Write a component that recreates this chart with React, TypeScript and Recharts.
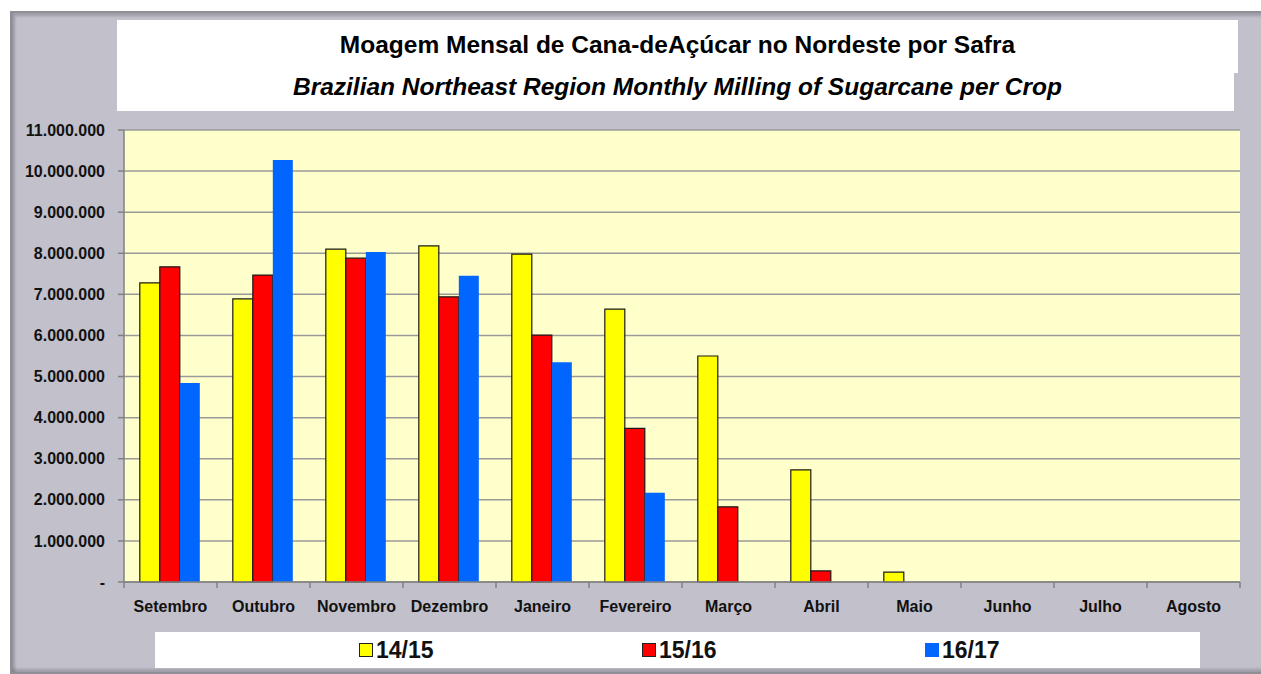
import React from 'react';
import { BarChart, Bar, XAxis, YAxis, CartesianGrid, Legend } from 'recharts';

const months = ['Setembro', 'Outubro', 'Novembro', 'Dezembro', 'Janeiro', 'Fevereiro', 'Março', 'Abril', 'Maio', 'Junho', 'Julho', 'Agosto'];
const crop1415 = [7280000, 6890000, 8100000, 8180000, 7980000, 6640000, 5500000, 2730000, 240000, null, null, null];
const crop1516 = [7670000, 7470000, 7880000, 6940000, 6010000, 3740000, 1830000, 270000, null, null, null, null];
const crop1617 = [4840000, 10270000, 8030000, 7450000, 5350000, 2170000, null, null, null, null, null, null];
const seriesNames = ['14/15', '15/16', '16/17'];
const seriesColors = ['#FFFF00', '#FF0000', '#0066FF'];
const seriesStrokes = ['#1a1a1a', '#1a1a1a', 'none'];
const yTicks = [0, 1000000, 2000000, 3000000, 4000000, 5000000, 6000000, 7000000, 8000000, 9000000, 10000000, 11000000];
const titleLine1 = 'Moagem Mensal de Cana-deAçúcar no Nordeste por Safra';
const titleLine2 = 'Brazilian Northeast Region Monthly Milling of Sugarcane per Crop';

const data = months.map((m, i) => ({
  month: m,
  s0: crop1415[i],
  s1: crop1516[i],
  s2: crop1617[i],
}));

const FONT = '"Liberation Sans", Arial, sans-serif';

const fmt = (v: number) => (v === 0 ? '-' : String(v).replace(/\B(?=(\d{3})+(?!\d))/g, '.'));

const CategoryTick = (props: any) => {
  const { x, y, payload, index } = props;
  const half = payload && typeof payload.offset === 'number' && payload.offset > 0 ? payload.offset : 46.5;
  const axisY = y - 13 - 6;
  return (
    <g>
      <line x1={x - half} x2={x - half} y1={axisY} y2={axisY + 6} stroke="#808080" strokeWidth={1.5} />
      {index === months.length - 1 && (
        <line x1={x + half} x2={x + half} y1={axisY} y2={axisY + 6} stroke="#808080" strokeWidth={1.5} />
      )}
      <text x={x} y={y} dy="0.71em" textAnchor="middle" fontFamily={FONT} fontWeight="bold" fontSize={16} fill="#111">
        {payload.value}
      </text>
    </g>
  );
};

const LegendContent = () => (
  <div style={{ position: 'relative', width: 1045, height: 36, background: '#FFFFFF' }}>
    {seriesNames.map((n, i) => (
      <div key={n} style={{ position: 'absolute', left: 204 + i * 283, top: 0, height: 36, display: 'flex', alignItems: 'center' }}>
        <div
          style={{
            width: seriesStrokes[i] === 'none' ? 14 : 12,
            height: seriesStrokes[i] === 'none' ? 14 : 12,
            background: seriesColors[i],
            border: seriesStrokes[i] === 'none' ? 'none' : '1px solid #222',
            marginRight: 3,
          }}
        />
        <span style={{ fontFamily: FONT, fontWeight: 'bold', fontSize: 23, color: '#111', lineHeight: '36px' }}>{n}</span>
      </div>
    ))}
  </div>
);

export default function App() {
  return (
    <div style={{ position: 'absolute', left: 0, top: 0, width: 1261, height: 674, background: '#FFFFFF', overflow: 'hidden' }}>
      <div
        style={{
          position: 'absolute',
          left: 10,
          top: 11,
          width: 1270,
          height: 659,
          background: '#C1C0CB',
          borderTop: '2px solid #8E8E96',
          borderLeft: '2px solid #8E8E96',
          borderBottom: '2px solid #8E8E96',
          boxShadow: 'inset 3px 3px 3px rgba(0,0,0,0.18), inset 0 -3px 3px rgba(0,0,0,0.18)',
        }}
      />
      <div style={{ position: 'absolute', left: 117, top: 20, width: 1121, height: 53, background: '#FFFFFF' }} />
      <div style={{ position: 'absolute', left: 117, top: 73, width: 1117, height: 38, background: '#FFFFFF' }} />
      <div
        style={{
          position: 'absolute',
          left: 117,
          top: 29,
          width: 1121,
          textAlign: 'center',
          fontFamily: FONT,
          fontWeight: 'bold',
          fontSize: 24.5,
          lineHeight: '32px',
          color: '#000',
        }}
      >
        {titleLine1}
      </div>
      <div
        style={{
          position: 'absolute',
          left: 117,
          top: 71,
          width: 1121,
          textAlign: 'center',
          fontFamily: FONT,
          fontWeight: 'bold',
          fontStyle: 'italic',
          fontSize: 24.5,
          lineHeight: '32px',
          color: '#000',
        }}
      >
        {titleLine2}
      </div>
      <div style={{ position: 'absolute', left: 0, top: 0 }}>
        <BarChart
          width={1261}
          height={674}
          data={data}
          margin={{ top: 130, right: 21, bottom: 62, left: 14 }}
          barCategoryGap="17%"
          barGap={0}
        >
          <CartesianGrid vertical={false} fill="#FFFFCC" stroke="#9A9A9A" strokeWidth={1.5} />
          <XAxis
            dataKey="month"
            height={30}
            tickLine={false}
            tickSize={6}
            tickMargin={13}
            axisLine={{ stroke: '#808080', strokeWidth: 1.5 }}
            tick={<CategoryTick />}
            interval={0}
          />
          <YAxis
            width={110}
            domain={[0, 11000000]}
            ticks={yTicks}
            interval={0}
            tickFormatter={fmt}
            tickSize={6}
            tickMargin={13}
            tickLine={{ stroke: '#808080', strokeWidth: 1.5 }}
            axisLine={{ stroke: '#808080', strokeWidth: 1.5 }}
            tick={{ fontFamily: FONT, fontWeight: 'bold', fontSize: 16, fill: '#111' }}
          />
          <Legend
            verticalAlign="middle"
            align="center"
            layout="horizontal"
            content={<LegendContent />}
            wrapperStyle={{ left: 155, top: 632, width: 1045, height: 36 }}
          />
          {seriesNames.map((n, i) => (
            <Bar
              key={n}
              dataKey={'s' + i}
              name={n}
              fill={seriesColors[i]}
              stroke={seriesStrokes[i]}
              strokeWidth={1.2}
              isAnimationActive={false}
            />
          ))}
        </BarChart>
      </div>
    </div>
  );
}
